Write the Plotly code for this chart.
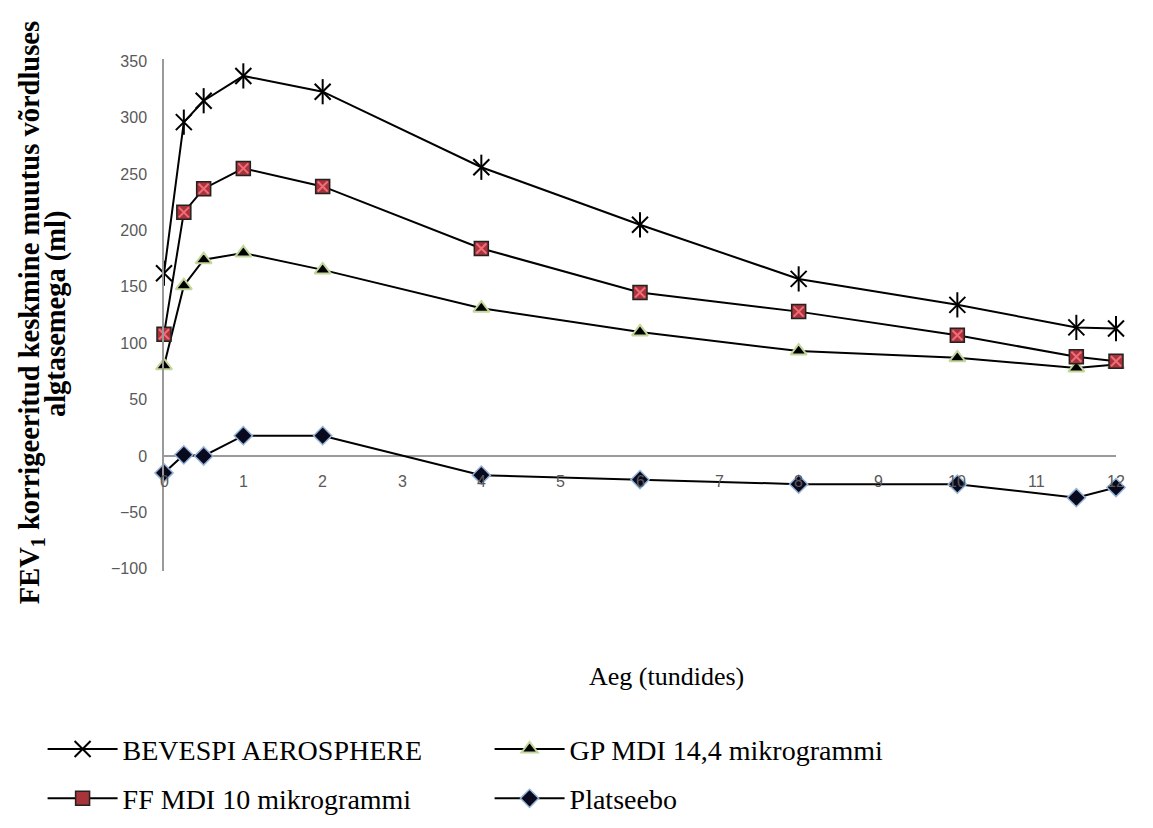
import plotly.graph_objects as go

hours = [0, 0.25, 0.5, 1, 2, 4, 6, 8, 10, 11.5, 12]
bevespi = [162, 296, 315, 337, 323, 256, 205, 157, 134, 114, 113]
gp_mdi = [80, 151, 174, 180, 165, 131, 110, 93, 87, 78, 81]
ff_mdi = [108, 216, 237, 255, 239, 184, 145, 128, 107, 88, 84]
placebo = [-15, 1, 0, 18, 18, -17, -21, -25, -25, -37, -28]

x_tick_labels = list(range(0, 13))
y_ticks = [-100, -50, 0, 50, 100, 150, 200, 250, 300, 350]

names = ["BEVESPI AEROSPHERE", "GP MDI 14,4 mikrogrammi", "FF MDI 10 mikrogrammi", "Platseebo"]

tick_font = dict(family="Liberation Sans Narrow, Arial Narrow, Liberation Sans, sans-serif", size=16, color="#595959")
serif = "Liberation Serif"

fig = go.Figure()

# BEVESPI: star marker (X + vertical bar)
fig.add_trace(go.Scatter(
    x=hours, y=bevespi, mode="lines+markers", name=names[0],
    line=dict(color="black", width=2),
    marker=dict(symbol="x-thin-open", size=16, color="black", line=dict(color="black", width=2)),
    legendgroup="bev", cliponaxis=False))
fig.add_trace(go.Scatter(
    x=hours, y=bevespi, mode="markers", showlegend=False, legendgroup="bev",
    marker=dict(symbol="line-ns", size=18, color="black", line=dict(color="black", width=2)),
    cliponaxis=False, hoverinfo="skip"))

# GP MDI: triangle
fig.add_trace(go.Scatter(
    x=hours, y=gp_mdi, mode="lines+markers", name=names[1],
    line=dict(color="black", width=2),
    marker=dict(symbol="triangle-up", size=14, color="black", line=dict(color="#c3d69b", width=2)),
    cliponaxis=False))

# FF MDI: square with pink X
fig.add_trace(go.Scatter(
    x=hours, y=ff_mdi, mode="lines+markers", name=names[2],
    line=dict(color="black", width=2),
    marker=dict(symbol="square", size=14, color="#a8343a", line=dict(color="#222222", width=1.5)),
    legendgroup="ff", cliponaxis=False))
fig.add_trace(go.Scatter(
    x=hours, y=ff_mdi, mode="markers", showlegend=False, legendgroup="ff",
    marker=dict(symbol="x-thin-open", size=10, color="#f06c7a", line=dict(color="#f06c7a", width=2)),
    cliponaxis=False, hoverinfo="skip"))

# Placebo: diamond
fig.add_trace(go.Scatter(
    x=hours, y=placebo, mode="lines+markers", name=names[3],
    line=dict(color="black", width=2),
    marker=dict(symbol="diamond", size=14, color="#0a0a1e", line=dict(color="#95b3d7", width=1.5)),
    cliponaxis=False))

# x tick labels drawn along the y=0 line
for t in x_tick_labels:
    fig.add_annotation(x=t, y=0, xref="x", yref="y", text=str(t), showarrow=False,
                       yanchor="top", yshift=-15, font=tick_font)

fig.add_annotation(
    text="<b>FEV<sub>1</sub> korrigeeritud keskmine muutus võrdluses</b>",
    xref="paper", yref="paper", x=-0.1397, y=0.5036, textangle=-90, showarrow=False,
    font=dict(family=serif, size=28.5, color="black"), xanchor="center", yanchor="middle")
fig.add_annotation(
    text="<b>algtasemega (ml)</b>",
    xref="paper", yref="paper", x=-0.1135, y=0.5036, textangle=-90, showarrow=False,
    font=dict(family=serif, size=28.5, color="black"), xanchor="center", yanchor="middle")

fig.add_annotation(
    text="Aeg (tundides)", xref="paper", yref="paper", x=0.528, y=-0.207, showarrow=False,
    font=dict(family=serif, size=26, color="black"), xanchor="center", yanchor="middle")

fig.update_layout(
    width=1153, height=828,
    margin=dict(l=156, r=45, t=51, b=265),
    paper_bgcolor="white", plot_bgcolor="white",
    xaxis=dict(range=[0, 12], showgrid=False, zeroline=False, showline=False,
               showticklabels=False, ticks=""),
    yaxis=dict(range=[-102, 352], tickvals=y_ticks, showgrid=False,
               zeroline=True, zerolinecolor="#9a9a9a", zerolinewidth=1.5,
               showline=True, linecolor="#9a9a9a", linewidth=1.5,
               ticks="", tickfont=tick_font, ticklabelstandoff=12),
    showlegend=True,
    legend=dict(orientation="h", xref="container", yref="container", x=0.03, y=0.135,
                xanchor="left", yanchor="top",
                font=dict(family=serif, size=28, color="black"),
                bgcolor="rgba(0,0,0,0)", itemwidth=70,
                entrywidth=362, entrywidthmode="pixels"),
)

fig.write_html("out.html")
